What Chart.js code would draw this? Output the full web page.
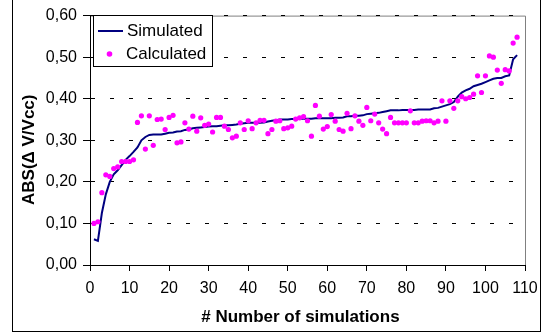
<!DOCTYPE html>
<html>
<head>
<meta charset="utf-8">
<script src="https://cdn.jsdelivr.net/npm/chart.js@4.4.1/dist/chart.umd.min.js"></script>
<style>
    html, body { margin: 0; padding: 0; background: #fff; }
    #wrap { width: 547px; height: 335px; }
</style>
</head>
<body>
<div id="wrap"><canvas id="grafico" width="547" height="335"></canvas></div>
<script>
// valores (simulação nº 1 a 108)
const simulated = [
    0.062, 0.058, 0.125, 0.170, 0.200, 0.218, 0.228, 0.240, 0.253, 0.262,
    0.272, 0.283, 0.300, 0.308, 0.313, 0.314, 0.314, 0.314, 0.316, 0.318,
    0.319, 0.321, 0.322, 0.325, 0.326, 0.329, 0.330, 0.331, 0.332, 0.333,
    0.334, 0.334, 0.335, 0.336, 0.336, 0.337, 0.338, 0.340, 0.341, 0.342,
    0.342, 0.342, 0.342, 0.343, 0.345, 0.347, 0.348, 0.350, 0.350, 0.350,
    0.351, 0.351, 0.352, 0.352, 0.352, 0.352, 0.353, 0.353, 0.353, 0.353,
    0.353, 0.354, 0.354, 0.355, 0.358, 0.358, 0.359, 0.359, 0.360, 0.363,
    0.364, 0.365, 0.366, 0.368, 0.370, 0.372, 0.372, 0.372, 0.373, 0.373,
    0.373, 0.373, 0.374, 0.374, 0.374, 0.374, 0.377, 0.378, 0.381, 0.384,
    0.387, 0.392, 0.405, 0.415, 0.420, 0.424, 0.430, 0.433, 0.436, 0.440,
    0.444, 0.448, 0.450, 0.450, 0.454, 0.456, 0.495, 0.505
];

const calculated = [
    0.100, 0.104, 0.174, 0.217, 0.213, 0.232, 0.236, 0.249, 0.249, 0.249,
    0.253, 0.343, 0.359, 0.279, 0.359, 0.288, 0.350, 0.351, 0.326, 0.355,
    0.360, 0.294, 0.296, 0.342, 0.327, 0.358, 0.322, 0.354, 0.336, 0.339,
    0.320, 0.355, 0.355, 0.334, 0.326, 0.306, 0.310, 0.342, 0.326, 0.347,
    0.328, 0.342, 0.348, 0.348, 0.316, 0.326, 0.346, 0.347, 0.328, 0.330,
    0.334, 0.351, 0.354, 0.357, 0.347, 0.310, 0.384, 0.358, 0.327, 0.333,
    0.362, 0.346, 0.326, 0.322, 0.365, 0.328, 0.359, 0.346, 0.336, 0.379,
    0.347, 0.363, 0.342, 0.327, 0.316, 0.355, 0.342, 0.342, 0.342, 0.342,
    0.371, 0.342, 0.342, 0.346, 0.347, 0.347, 0.342, 0.346, 0.395, 0.346,
    0.395, 0.377, 0.395, 0.405, 0.400, 0.403, 0.411, 0.455, 0.415, 0.455,
    0.503, 0.500, 0.469, 0.437, 0.470, 0.467, 0.534, 0.548
];

const seriesLabels = ['Simulated', 'Calculated'];
const xTitle = '# Number of simulations';
const yTitle = 'ABS(\u0394 V/Vcc)';

const fonte = 'Liberation Sans, Arial, sans-serif';

// moldura preta e borda cinza da área do gráfico (estilo Excel)
const molduraPlugin = {
    id: 'moldura',
    beforeDraw(chart) {
        const ctx = chart.ctx;
        const a = chart.chartArea;
        ctx.save();
        ctx.strokeStyle = '#000';
        ctx.lineWidth = 1;
        ctx.strokeRect(12.5, -2, 528, 333.5);
        ctx.strokeStyle = '#808080';
        ctx.beginPath();
        ctx.moveTo(a.left, a.top + 0.5);
        ctx.lineTo(a.right + 0.5, a.top + 0.5);
        ctx.lineTo(a.right + 0.5, a.bottom);
        ctx.stroke();
        ctx.restore();
    }
};

// legenda com caixa dentro da área do gráfico
const legendaPlugin = {
    id: 'legenda',
    afterDraw(chart) {
        const ctx = chart.ctx;
        ctx.save();
        ctx.fillStyle = '#fff';
        ctx.fillRect(93.5, 15.5, 119, 51);
        ctx.strokeStyle = '#000';
        ctx.lineWidth = 1;
        ctx.strokeRect(93.5, 15.5, 119, 51);

        ctx.strokeStyle = '#000080';
        ctx.lineWidth = 2;
        ctx.beginPath();
        ctx.moveTo(98, 31);
        ctx.lineTo(123, 31);
        ctx.stroke();

        ctx.fillStyle = '#ff00ff';
        ctx.beginPath();
        ctx.arc(109.5, 54, 2.8, 0, Math.PI * 2);
        ctx.fill();

        ctx.fillStyle = '#000';
        ctx.font = '17px ' + fonte;
        ctx.textBaseline = 'middle';
        ctx.fillText(seriesLabels[0], 127, 31);
        ctx.fillText(seriesLabels[1], 126, 54);
        ctx.restore();
    }
};

const ctx = document.getElementById('grafico').getContext('2d');

new Chart(ctx, {
    type: 'scatter',
    data: {
        datasets: [
            {
                label: seriesLabels[0],
                data: simulated.map((v, i) => ({ x: i + 1, y: v })),
                showLine: true,
                borderColor: '#000080',
                borderWidth: 2,
                pointRadius: 0,
                tension: 0,
                order: 1
            },
            {
                label: seriesLabels[1],
                data: calculated.map((v, i) => ({ x: i + 1, y: v })),
                showLine: false,
                backgroundColor: '#ff00ff',
                borderWidth: 0,
                pointRadius: 2.6,
                order: 0
            }
        ]
    },
    options: {
        responsive: false,
        animation: false,
        layout: {
            padding: { top: 13, right: 22, left: 0, bottom: 0 }
        },
        scales: {
            x: {
                type: 'linear',
                min: 0,
                max: 110,
                afterFit(scale) { scale.height = 70; },
                ticks: {
                    stepSize: 10,
                    color: '#000',
                    font: { family: fonte, size: 16 },
                    padding: 8,
                    maxRotation: 0
                },
                grid: {
                    drawOnChartArea: false,
                    tickLength: 6,
                    tickColor: '#000'
                },
                border: { color: '#000', width: 1 },
                title: {
                    display: true,
                    text: xTitle + '   ',
                    color: '#000',
                    font: { family: fonte, size: 17, weight: 'bold' },
                    padding: { top: 0, bottom: 7 }
                }
            },
            y: {
                min: 0,
                max: 0.6,
                afterFit(scale) { scale.width = 90; },
                ticks: {
                    stepSize: 0.1,
                    color: '#000',
                    font: { family: fonte, size: 16 },
                    padding: 6,
                    callback: (v) => v.toFixed(2).replace('.', ',')
                },
                grid: {
                    color: '#000',
                    lineWidth: 1,
                    tickLength: 7,
                    tickColor: '#000'
                },
                border: { color: '#000', width: 1, dash: [4, 15] },
                title: {
                    display: true,
                    text: yTitle + '    ',
                    color: '#000',
                    font: { family: fonte, size: 17, weight: 'bold' },
                    padding: { top: 19, bottom: 0 }
                }
            }
        },
        plugins: {
            legend: { display: false },
            tooltip: { enabled: false }
        }
    },
    plugins: [molduraPlugin, legendaPlugin]
});
</script>
</body>
</html>
